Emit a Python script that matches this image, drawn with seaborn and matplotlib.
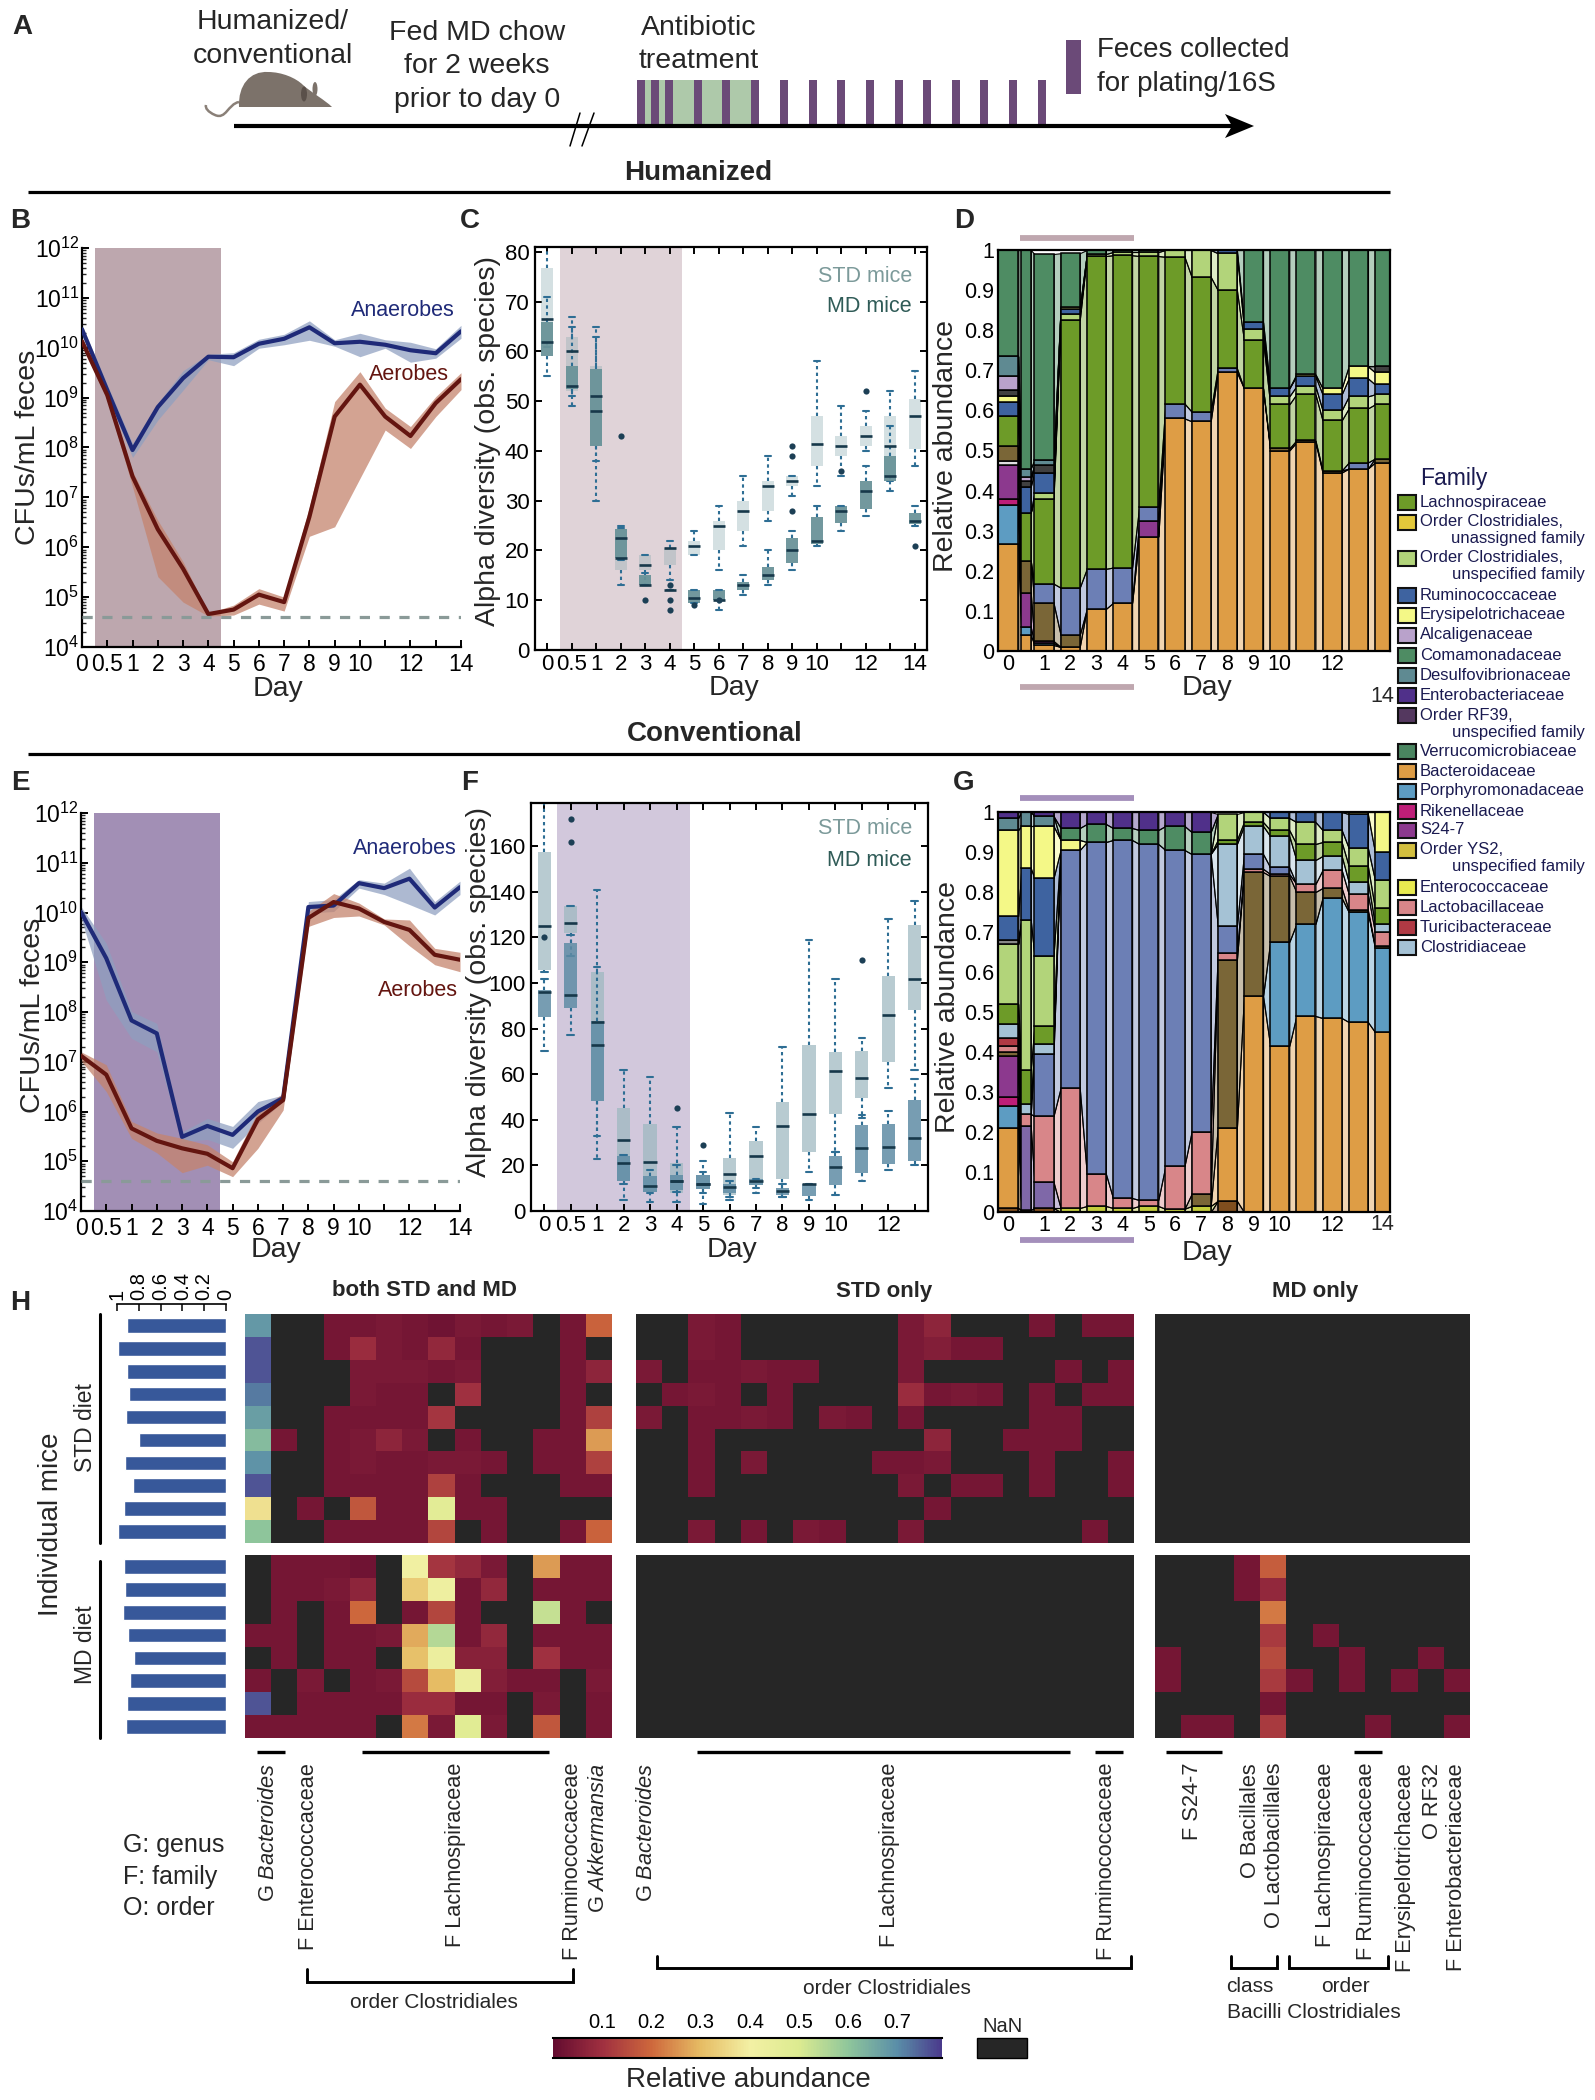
import numpy as np
import matplotlib
matplotlib.use("Agg")
import matplotlib.pyplot as plt
from matplotlib.colors import LinearSegmentedColormap, Normalize
from matplotlib.cm import ScalarMappable
from matplotlib.patches import Rectangle, PathPatch, Ellipse, Polygon
from matplotlib.path import Path
from matplotlib.ticker import LogLocator, NullFormatter
import seaborn as sns

sns.set_theme(style="white")
plt.rcParams['font.family'] = ['Liberation Sans', 'DejaVu Sans']
plt.rcParams['mathtext.fontset'] = 'custom'
plt.rcParams['mathtext.rm'] = 'Liberation Sans'
plt.rcParams['mathtext.it'] = 'Liberation Sans:italic'

W, H = 1595, 2100
n = np.nan

# ---------- data: CFU panels (log10 CFU/mL) ----------
cfu_ticks = ['0', '0.5', '1', '2', '3', '4', '5', '6', '7', '8', '9', '10', '', '12', '', '14']
b_ana = [10.37, 9.15, 7.95, 8.81, 9.39, 9.82, 9.81, 10.08, 10.18, 10.41, 10.09, 10.12, 10.06, 9.95, 9.89, 10.33]
b_ana_hi = [10.46, 9.26, 8.08, 8.89, 9.54, 9.87, 9.90, 10.17, 10.27, 10.54, 10.16, 10.29, 10.16, 10.11, 9.98, 10.45]
b_ana_lo = [10.29, 9.05, 7.80, 8.55, 9.15, 9.76, 9.64, 9.99, 10.06, 10.15, 10.03, 9.82, 9.99, 9.71, 9.79, 10.19]
b_aer = [10.13, 9.05, 7.42, 6.36, 5.57, 4.66, 4.75, 5.05, 4.90, 6.61, 8.62, 9.26, 8.62, 8.23, 8.89, 9.37]
b_aer_hi = [10.19, 9.12, 7.52, 6.54, 5.71, 4.68, 4.84, 5.17, 5.00, 6.81, 8.92, 9.52, 8.79, 8.42, 9.02, 9.50]
b_aer_lo = [10.06, 8.95, 7.21, 5.41, 4.90, 4.62, 4.64, 4.86, 4.72, 6.22, 6.41, 7.38, 8.35, 7.98, 8.62, 9.16]
e_ana = [10.01, 9.08, 7.83, 7.57, 5.49, 5.71, 5.53, 6.00, 6.27, 10.11, 10.14, 10.59, 10.49, 10.68, 10.10, 10.51]
e_ana_hi = [10.12, 9.38, 8.01, 7.77, 5.59, 5.86, 5.70, 6.20, 6.33, 10.22, 10.26, 10.66, 10.59, 10.89, 10.22, 10.63]
e_ana_lo = [9.89, 8.24, 7.47, 7.20, 5.39, 5.44, 5.26, 5.76, 6.20, 9.99, 10.02, 10.49, 10.36, 10.16, 9.95, 10.36]
e_aer = [7.12, 6.74, 5.66, 5.41, 5.26, 5.15, 4.86, 5.84, 6.23, 9.89, 10.21, 10.08, 9.81, 9.65, 9.15, 9.05]
e_aer_hi = [7.20, 6.94, 5.80, 5.57, 5.46, 5.33, 4.99, 6.00, 6.37, 10.02, 10.38, 10.19, 9.87, 9.85, 9.28, 9.20]
e_aer_lo = [7.02, 6.40, 5.46, 5.17, 4.77, 4.92, 4.69, 5.26, 6.03, 9.72, 9.90, 9.93, 9.75, 9.33, 8.95, 8.81]
detection_limit = 4.6

# ---------- data: alpha diversity boxes (low whisker, q1, median, q3, high whisker) ----------
c_std = [[61, 62, 66.5, 76.7, 81], [51, 52, 60, 63, 67], [38, 41, 51, 57, 65], [13, 16, 22.5, 24.4, 25],
         [13, 16, 17, 19, 19], [14, 17, 20.5, 20.5, 22], [19, 19, 21, 22, 24], [16, 20, 25, 26, 29],
         [21, 24, 28, 30, 35], [26, 28, 33, 34, 39], [31, 33, 34, 35, 35], [33, 37, 41.5, 47, 58],
         [35, 39, 41, 43, 49], [40, 41, 43, 45, 48], [34, 35, 41, 47, 52], [37, 40.5, 47, 50.5, 56]]
c_md = [[55, 59, 62, 66, 71], [49, 52.5, 53, 57, 65], [30, 41, 48, 56.5, 63], [18, 18.4, 18.5, 24.4, 24.5],
        [13, 13, 13, 15, 15.5], [12, 12, 12, 12, 12], [9.5, 9.5, 10.5, 12, 12], [8, 10, 10, 12, 12],
        [11, 12, 13, 13.7, 15], [13, 14, 15, 16.7, 20], [16, 17.5, 20, 22.5, 24], [21, 21.3, 22, 26.7, 29],
        [24, 25.5, 28, 29, 29], [27, 28.3, 32, 34, 37], [32, 34, 35, 39, 45], [25, 25.3, 26, 27.5, 29]]
c_flier_x = [3, 4, 5, 5, 5, 6, 7, 10, 10, 10, 12, 13, 15]
c_flier_y = [43, 10, 13, 10, 8, 9, 10, 41, 39, 28, 36, 52, 21]
f_std = [[105, 105.7, 125, 157.6, 179], [112, 122, 126.5, 134, 134], [33, 48.4, 83, 105, 141], [5, 13, 31, 45, 62],
         [4, 8.5, 21.5, 38, 59], [4, 8, 13, 21, 37], [3, 9.5, 12, 16, 22], [5, 7, 16.4, 23.4, 43],
         [8, 11.4, 24, 30.7, 37], [6, 14, 37.4, 47.7, 72], [17, 26, 42.5, 72.8, 119], [26, 42.5, 61.4, 69.7, 102],
         [41, 49.4, 58.5, 70, 76], [54, 65.5, 86, 103, 128], [62, 88, 102, 125.4, 136]]
f_md = [[70, 85, 96, 97, 102], [77, 89, 94.6, 117.7, 121], [23, 48.4, 73, 83.5, 107], [12, 13, 21, 24, 24.5],
        [8, 8.5, 11, 15.5, 18], [8.5, 9, 13, 16, 20], [8, 9.5, 12, 16, 17], [6, 8, 10.4, 12, 13],
        [10, 11.4, 13, 14, 14], [6, 7, 8.8, 10, 12], [5, 6.7, 12, 12, 12], [7, 11.4, 19.4, 24, 26],
        [13, 16.5, 27.5, 37.7, 42], [18, 20.5, 28, 38, 44], [20, 22, 32, 48.7, 58]]
f_flier_x = [0, 1, 1, 5, 6, 12]
f_flier_y = [120, 172, 162, 45, 29, 110]
box_ticks_c = ['0', '0.5', '1', '2', '3', '4', '5', '6', '7', '8', '9', '10', '', '12', '', '14']
box_ticks_f = ['0', '0.5', '1', '2', '3', '4', '5', '6', '7', '8', '9', '10', '', '12', '']

# ---------- data: stacked relative abundance, panel D (one value per sampling day) ----------
d_bacteroidaceae = [.268, .04, .015, .01, .105, .12, .285, .58, .573, .695, .655, .50, .52, .445, .455, .47]
d_porphyromonad = [.097, .02, .005, 0, 0, 0, 0, 0, 0, 0, 0, 0, 0, 0, 0, 0]
d_rikenellaceae = [.015, 0, 0, 0, 0, 0, 0, 0, 0, 0, 0, 0, 0, 0, 0, 0]
d_s24_7 = [.085, .085, .005, 0, 0, 0, .04, 0, 0, 0, 0, 0, 0, 0, 0, 0]
d_pale = [.01, 0, 0, 0, 0, 0, 0, 0, 0, 0, 0, 0, 0, 0, 0, 0]
d_brown = [.035, .08, .095, .03, 0, 0, 0, 0, 0, 0, 0, .005, .005, .005, 0, .01]
d_periwinkle = [0, 0, .048, .118, .10, .088, .035, .037, .024, .01, 0, 0, 0, 0, .015, 0]
d_lachno = [.075, .12, .212, .667, .78, .779, .625, .366, .336, .195, .12, .11, .115, .125, .135, .135]
d_clost_unspec = [0, 0, .015, .015, .005, .008, .01, .017, .067, .092, .028, .02, .02, .025, .03, .025]
d_rumino = [.035, .065, .05, .012, 0, 0, 0, 0, 0, .008, .017, .02, .025, .04, .045, .025]
d_erysipelo = [.015, 0, 0, .005, 0, 0, 0, 0, 0, 0, 0, 0, .005, .015, .03, .03]
d_gray = [.015, .015, .02, 0, 0, 0, 0, 0, 0, 0, 0, 0, 0, 0, 0, .015]
d_alcaligen = [.035, .01, 0, 0, 0, 0, 0, 0, 0, 0, 0, 0, 0, 0, 0, 0]
d_desulfo = [.05, .02, .012, 0, 0, 0, 0, 0, 0, 0, 0, 0, 0, 0, 0, 0]
d_comamonad = [.265, .545, .513, .135, .01, .005, .005, 0, 0, 0, .18, .345, .31, .345, .29, .29]

# ---------- data: stacked relative abundance, panel G ----------
g_darkbrown = [.01, .005, .01, 0, 0, 0, 0, 0, 0, .028, 0, 0, 0, 0, 0, 0]
g_enterococc = [0, 0, 0, .01, .015, .01, .015, .008, .015, 0, 0, 0, 0, 0, 0, 0]
g_bacteroidaceae = [.20, 0, 0, 0, 0, 0, 0, 0, 0, .182, .54, .415, .49, .485, .475, .45]
g_porphyromonad = [.055, 0, 0, 0, 0, 0, 0, 0, 0, 0, 0, .26, .23, .30, .275, .21]
g_rikenellaceae = [.023, 0, 0, 0, 0, 0, 0, 0, 0, 0, 0, 0, 0, 0, 0, 0]
g_s24_7 = [.102, 0, 0, 0, 0, 0, 0, 0, 0, 0, 0, 0, 0, 0, 0, 0]
g_violet = [0, .21, .065, 0, 0, 0, 0, 0, 0, 0, 0, 0, 0, 0, 0, 0]
g_brown = [.01, 0, 0, 0, 0, 0, 0, 0, .03, .42, .31, .165, .08, .025, .005, .005]
g_lactobac = [.015, .03, .165, .30, .08, .025, .015, .107, .155, .018, .008, .005, .02, .045, .04, .035]
g_turicibac = [.02, 0, 0, 0, 0, 0, 0, 0, 0, 0, 0, 0, 0, 0, 0, 0]
g_periwinkle = [0, 0, .155, .595, .83, .895, .89, .79, .695, .067, .037, .017, 0, 0, 0, 0]
g_clostridiac = [.035, .025, .025, 0, 0, 0, 0, 0, 0, .205, .07, .078, .06, .035, .03, .02]
g_lachno = [.05, .085, .045, 0, 0, 0, 0, 0, 0, .01, .01, .015, .04, .035, .04, .04]
g_clost_unspec = [.15, .375, .175, 0, 0, 0, 0, 0, 0, .065, .025, .03, .055, .03, .045, .07]
g_gray = [.01, 0, 0, 0, 0, 0, 0, 0, 0, 0, 0, 0, 0, 0, 0, 0]
g_rumino = [.06, .13, .195, 0, 0, 0, 0, 0, 0, 0, 0, .015, .025, .045, .085, .07]
g_erysipelo = [.215, .105, .13, .025, 0, 0, 0, 0, 0, 0, 0, 0, 0, 0, .005, .10]
g_desulfo = [.03, .035, .025, 0, 0, 0, 0, 0, 0, 0, 0, 0, 0, 0, 0, 0]
g_comamonad = [0, 0, 0, .03, .045, .03, .035, .06, .055, 0, 0, 0, 0, 0, 0, 0]
g_enterobac = [.015, 0, .01, .04, .03, .04, .045, .035, .05, 0, 0, 0, 0, 0, 0, 0]

stack_days = ['0', '', '1', '2', '3', '4', '5', '6', '7', '8', '9', '10', '', '12', '', '']

family_names = ['Lachnospiraceae', 'Order Clostridiales,\nunassigned family', 'Order Clostridiales,\nunspecified family',
                'Ruminococcaceae', 'Erysipelotrichaceae', 'Alcaligenaceae', 'Comamonadaceae', 'Desulfovibrionaceae',
                'Enterobacteriaceae', 'Order RF39,\nunspecified family', 'Verrucomicrobiaceae', 'Bacteroidaceae',
                'Porphyromonadaceae', 'Rikenellaceae', 'S24-7', 'Order YS2,\nunspecified family', 'Enterococcaceae',
                'Lactobacillaceae', 'Turicibacteraceae', 'Clostridiaceae']
family_colors = ['#6D9B28', '#E3C93B', '#B2D47A', '#3E63A0', '#F4F887', '#B9A2CB', '#4E8C63', '#5F8A92', '#50308A',
                 '#54385F', '#4A8560', '#DE9D45', '#5D9CC2', '#BE1E78', '#8C398E', '#D3BF3F', '#E8EA50', '#D88689',
                 '#B03A44', '#A5C2D5']
FC = dict(zip(family_names, family_colors))

# ---------- data: heatmaps ----------
both_std = [[.68, n, n, .03, .03, .04, .03, .02, .04, .03, .04, n, .03, .19],
            [.76, n, n, .03, .09, .04, .03, .08, .03, n, n, n, .03, n],
            [.76, n, n, n, .04, .04, .04, .03, .04, n, n, n, .03, .07],
            [.72, n, n, n, .04, .03, .03, n, .10, n, n, n, .03, n],
            [.67, n, n, .03, .03, .03, .03, .11, n, n, n, n, .03, .13],
            [.62, .03, n, .03, .04, .07, .04, n, .03, n, n, .03, .03, .26],
            [.69, n, n, .03, .04, .03, .03, .04, .04, .03, n, .03, .03, .13],
            [.76, n, n, .03, .03, .03, .03, .13, .03, n, n, n, .03, .03],
            [.37, n, .03, n, .17, .03, .03, .47, .03, .03, n, n, n, n],
            [.60, n, n, .03, .03, .03, .03, .14, n, .03, n, n, .03, .19]]
both_md = [[n, .03, .03, .03, .02, n, .41, .11, .08, .04, n, .26, .03, .03],
           [n, .03, .03, .04, .07, n, .33, .42, .03, .08, n, .03, .03, .03],
           [n, .03, n, .03, .20, n, .03, .14, .03, n, n, .53, .03, n],
           [.03, .03, n, .03, .03, .04, .28, .55, .03, .08, n, .03, .03, .03],
           [n, .03, n, .03, .03, n, .31, .43, .06, .06, n, .10, .03, .03],
           [.03, n, .04, n, .03, .04, .15, .30, .43, .05, .03, .03, n, .04],
           [.76, n, .03, .03, .03, .03, .09, .09, .03, .03, n, .04, n, .03],
           [.03, .03, .03, .03, .03, n, .22, .04, .48, .04, n, .17, n, .03]]
a = .03
b = .04
std_only = [[n, n, b, a, n, n, n, n, n, n, b, .07, n, n, n, a, n, a, a],
            [n, n, b, a, n, n, n, n, n, n, b, .05, a, a, n, n, n, n, n],
            [b, n, a, a, b, a, a, n, n, n, b, n, n, n, n, n, a, n, a],
            [n, a, b, a, n, a, n, n, n, n, .09, a, b, a, n, a, n, a, a],
            [b, n, a, a, b, a, n, b, a, n, a, n, n, n, n, a, a, n, n],
            [n, n, a, n, n, n, n, n, n, n, n, .07, n, n, a, a, a, n, n],
            [n, n, a, n, b, n, n, n, n, a, a, b, n, n, n, a, n, n, a],
            [n, n, a, n, n, n, n, n, n, n, b, n, a, a, n, a, n, n, a],
            [n, n, n, n, n, n, n, n, n, n, n, a, n, n, n, n, n, n, n],
            [n, n, b, n, a, n, b, a, n, n, b, n, n, n, n, n, n, a, n]]
md_only = [[n, n, n, a, .18, n, n, n, n, n, n, n],
           [n, n, n, a, .08, n, n, n, n, n, n, n],
           [n, n, n, n, .22, n, n, n, n, n, n, n],
           [n, n, n, n, .12, n, a, n, n, n, n, n],
           [a, n, n, n, .15, n, n, a, n, n, a, n],
           [a, n, n, n, .12, a, n, a, n, a, n, a],
           [n, n, n, n, .03, n, n, n, n, n, n, n],
           [n, a, a, n, .12, n, n, n, a, n, n, a]]
no_std_cols = 19
no_md_cols = 12
std_totals = [.905, .993, .911, .889, .915, .80, .931, .856, .938, .99]
md_totals = [.934, .925, .941, .898, .843, .885, .905, .915]
total_ticks = [1, .8, .6, .4, .2, 0]
total_labels = ['1', '0.8', '0.6', '0.4', '0.2', '0']
abund_ticks = [.1, .2, .3, .4, .5, .6, .7]

cmap = LinearSegmentedColormap.from_list('abund', [
    (0, '#640C30'), (.1 / .79, '#A03040'), (.2 / .79, '#CE683C'), (.3 / .79, '#E6BC64'), (.4 / .79, '#F3F0A4'),
    (.5 / .79, '#DCEB90'), (.6 / .79, '#8FC69B'), (.7 / .79, '#5A8EA8'), (1, '#4A3A8C')])

# ---------- figure helpers ----------
fig = plt.figure(figsize=(W / 100, H / 100), dpi=100, facecolor='white')


def px_axes(l, t, r, b):
    return fig.add_axes([l / W, 1 - b / H, (r - l) / W, (b - t) / H])


def set_labels(ax, rect, xlab, xp, yp, ylab, xq, yq, fs=20.5):
    l, t, r, bt = rect
    ax.set_xlabel(xlab, fontsize=fs, va='center')
    ax.xaxis.set_label_coords((xp - l) / (r - l), (bt - yp - 3) / (bt - t))
    ax.set_ylabel(ylab, fontsize=fs, va='center')
    ax.yaxis.set_label_coords((xq - l) / (r - l), (bt - yq) / (bt - t))


def cfu_panel(rect, ana, ana_hi, ana_lo, aer, aer_hi, aer_lo, shade, xlab, ylab):
    ax = px_axes(*rect)
    ax.set_yscale('log')
    xs = np.arange(16)
    ax.axvspan(0.5, 5.49, color=shade, lw=0, zorder=0)
    ax.fill_between(xs, 10.0 ** np.array(ana_lo), 10.0 ** np.array(ana_hi), color='#8E9FC0', alpha=.72, lw=0, zorder=1)
    sns.lineplot(x=xs, y=10.0 ** np.array(ana), color='#1F2A78', lw=3, ax=ax, errorbar=None, zorder=3)
    ax.fill_between(xs, 10.0 ** np.array(aer_lo), 10.0 ** np.array(aer_hi), color='#C5846E', alpha=.75, lw=0, zorder=2)
    sns.lineplot(x=xs, y=10.0 ** np.array(aer), color='#641510', lw=3, ax=ax, errorbar=None, zorder=4)
    ax.axhline(10 ** detection_limit, color='#8A9A98', lw=2.3, dashes=(3.2, 3.0), zorder=5)
    ax.set_xlim(0, 15)
    ax.set_ylim(1e4, 1e12)
    ax.set_xticks(xs)
    ax.set_xticklabels(cfu_ticks, fontsize=16.5)
    ax.set_yticks([10.0 ** k for k in range(4, 13)])
    ax.set_yticklabels(['$\\mathregular{10^{%d}}$' % k for k in range(4, 13)], fontsize=16.5)
    ax.yaxis.set_minor_locator(LogLocator(base=10, subs=np.arange(2, 10), numticks=100))
    ax.yaxis.set_minor_formatter(NullFormatter())
    ax.tick_params(axis='both', which='major', direction='in', length=5, width=1.4, left=True, bottom=True, pad=4, colors='black')
    ax.tick_params(axis='y', which='minor', direction='in', length=3, width=1, left=True)
    ax.tick_params(axis='y', which='major', pad=2)
    for s in ['top', 'right']:
        ax.spines[s].set_visible(False)
    for s in ['left', 'bottom']:
        ax.spines[s].set_linewidth(1.6)
        ax.spines[s].set_color('black')
    set_labels(ax, rect, 'Day', xlab[0], xlab[1], 'CFUs/mL feces', ylab[0], ylab[1])
    ax.set_facecolor('none')
    return ax


def boxes(ax, rows, color, alpha):
    xs, ys = [], []
    for pos, stats in enumerate(rows):
        xs += [pos] * len(stats)
        ys += list(stats)
    sns.boxplot(x=xs, y=ys, native_scale=True, whis=(0, 100), showfliers=False, width=.5, color=color, saturation=1,
                ax=ax, boxprops=dict(alpha=alpha, linewidth=0),
                medianprops=dict(color='#17384A', linewidth=1.9),
                whiskerprops=dict(color='#2E6E94', linewidth=1.5, linestyle=(0, (1.6, 1.6))),
                capprops=dict(color='#2E6E94', linewidth=1.5), zorder=2)


def box_panel(rect, std, md, fx, fy, ticks, ymax, yticks, shade, std_col, std_a, md_col, md_a, xlab, ylab):
    ax = px_axes(*rect)
    ax.axvspan(0.5, 5.49, color=shade, lw=0, zorder=0)
    boxes(ax, std, std_col, std_a)
    boxes(ax, md, md_col, md_a)
    sns.scatterplot(x=fx, y=fy, color='#1C3F55', s=20, linewidth=0, ax=ax, zorder=4, legend=False)
    ax.set_xlim(-.5, len(std) - .5)
    ax.set_ylim(0, ymax)
    ax.set_xticks(np.arange(len(std)))
    ax.set_xticklabels(ticks, fontsize=16)
    ax.set_yticks(yticks)
    ax.set_yticklabels([str(v) for v in yticks], fontsize=16)
    ax.tick_params(axis='both', direction='in', length=5, width=1.4, left=True, right=True, top=True, bottom=True, pad=4, colors='black')
    ax.tick_params(axis='x', pad=3)
    for s in ax.spines.values():
        s.set_linewidth(1.6)
        s.set_color('black')
    set_labels(ax, rect, 'Day', xlab[0], xlab[1], 'Alpha diversity (obs. species)', ylab[0], ylab[1])
    return ax


stack_pos = np.array([0, .675] + [1.36 + k for k in range(14)])
stack_wid = np.array([.76, .36] + [.73] * 14)


def stack_panel(rect, layers, xlab, ylab):
    ax = px_axes(*rect)
    bottom = np.zeros(16)
    for vals, col in layers:
        vals = np.array(vals, float)
        top = bottom + vals
        for i in range(15):
            if vals[i] > 0 or vals[i + 1] > 0:
                xx = [stack_pos[i] + stack_wid[i] / 2, stack_pos[i + 1] - stack_wid[i + 1] / 2]
                ax.fill_between(xx, bottom[i:i + 2], top[i:i + 2], facecolor=matplotlib.colors.to_rgba(col, .42),
                                edgecolor='black', linewidth=.8, zorder=1)
        keep = vals > 0
        ax.bar(stack_pos[keep], vals[keep], width=stack_wid[keep], bottom=bottom[keep], color=col,
               edgecolor='black', linewidth=1.1, zorder=2)
        bottom = top
    ax.set_xlim(-.395, 14.57)
    ax.set_ylim(0, 1)
    ax.set_xticks(stack_pos)
    ax.set_xticklabels(stack_days, fontsize=15.5)
    ax.set_yticks(np.arange(0, 1.01, .1))
    ax.set_yticklabels(['0', '0.1', '0.2', '0.3', '0.4', '0.5', '0.6', '0.7', '0.8', '0.9', '1'], fontsize=15.5)
    ax.tick_params(axis='both', length=0, colors='black')
    ax.tick_params(axis='x', pad=2)
    ax.tick_params(axis='y', pad=3)
    for s in ax.spines.values():
        s.set_linewidth(1.6)
        s.set_color('black')
    set_labels(ax, rect, 'Day', xlab[0], xlab[1], 'Relative abundance', ylab[0], ylab[1])
    return ax


PERI, BROWN, GRAY = '#6C7FB5', '#7A6637', '#404040'

# ---------- panels ----------
cfu_panel((82, 248, 461, 647), b_ana, b_ana_hi, b_ana_lo, b_aer, b_aer_hi, b_aer_lo, '#BDA7AE', (278, 686), (28, 447))
cfu_panel((81, 813, 460, 1211), e_ana, e_ana_hi, e_ana_lo, e_aer, e_aer_hi, e_aer_lo, '#A28FB5', (276, 1247), (33, 1015))
box_panel((535, 247, 927, 650), c_std, c_md, c_flier_x, c_flier_y, box_ticks_c, 81, list(range(0, 81, 10)),
          '#E0D3D8', '#8FAEB3', .38, '#6A9399', .95, (734, 685), (488, 441))
box_panel((531, 803, 928, 1211), f_std, f_md, f_flier_x, f_flier_y, box_ticks_f, 179, list(range(0, 161, 20)),
          '#D2C8DC', '#9DB8C0', .72, '#5F8CA5', .85, (732, 1247), (479, 992))

stack_panel((998, 250, 1390, 651), [
    (d_bacteroidaceae, FC['Bacteroidaceae']), (d_porphyromonad, FC['Porphyromonadaceae']),
    (d_rikenellaceae, FC['Rikenellaceae']), (d_s24_7, FC['S24-7']), (d_pale, '#E0E0E0'), (d_brown, BROWN),
    (d_periwinkle, PERI), (d_lachno, FC['Lachnospiraceae']),
    (d_clost_unspec, FC['Order Clostridiales,\nunspecified family']), (d_rumino, FC['Ruminococcaceae']),
    (d_erysipelo, FC['Erysipelotrichaceae']), (d_gray, GRAY), (d_alcaligen, FC['Alcaligenaceae']),
    (d_desulfo, FC['Desulfovibrionaceae']), (d_comamonad, FC['Comamonadaceae'])], (1207, 685), (946, 446))

stack_panel((998, 812, 1390, 1212), [
    (g_darkbrown, '#7F4E1E'), (g_enterococc, '#C4CE3C'), (g_bacteroidaceae, FC['Bacteroidaceae']),
    (g_porphyromonad, FC['Porphyromonadaceae']), (g_rikenellaceae, FC['Rikenellaceae']), (g_s24_7, FC['S24-7']),
    (g_violet, '#7F68A8'), (g_brown, BROWN), (g_lactobac, FC['Lactobacillaceae']),
    (g_turicibac, FC['Turicibacteraceae']), (g_periwinkle, PERI), (g_clostridiac, FC['Clostridiaceae']),
    (g_lachno, FC['Lachnospiraceae']), (g_clost_unspec, FC['Order Clostridiales,\nunspecified family']),
    (g_gray, '#888888'), (g_rumino, FC['Ruminococcaceae']), (g_erysipelo, FC['Erysipelotrichaceae']),
    (g_desulfo, FC['Desulfovibrionaceae']), (g_comamonad, FC['Comamonadaceae']), (g_enterobac, FC['Enterobacteriaceae'])],
    (1207, 1250), (948, 1007))


def hm(rect, data):
    ax = px_axes(*rect)
    sns.heatmap(np.array(data, float), ax=ax, cmap=cmap, vmin=0, vmax=.79, cbar=False, xticklabels=False, yticklabels=False)
    ax.set_facecolor('#262626')
    return ax


hm((245, 1314, 612, 1543), both_std)
hm((245, 1555, 612, 1738), both_md)
hm((636, 1314, 1134, 1543), std_only)
hm((636, 1555, 1134, 1738), np.full((len(md_totals), no_std_cols), np.nan))
hm((1155, 1314, 1470, 1543), np.full((len(std_totals), no_md_cols), np.nan))
hm((1155, 1555, 1470, 1738), md_only)

for rect, totals, top_axis in [((117, 1314, 226, 1543), std_totals, True), ((117, 1555, 226, 1738), md_totals, False)]:
    ax = px_axes(*rect)
    sns.barplot(x=totals, y=list(range(len(totals))), orient='h', color='#37589A', saturation=1, width=.64, ax=ax, errorbar=None)
    ax.set_xlim(1, 0)
    ax.set_xlabel('')
    ax.set_ylabel('')
    ax.set_yticks([])
    for s in ax.spines.values():
        s.set_visible(False)
    if top_axis:
        ax.spines['top'].set_visible(True)
        ax.spines['top'].set_position(('outward', 7))
        ax.spines['top'].set_color('black')
        ax.spines['top'].set_linewidth(1.2)
        ax.xaxis.tick_top()
        ax.set_xticks(total_ticks)
        ax.set_xticklabels(total_labels, rotation=90, fontsize=14.5)
        ax.tick_params(axis='x', direction='in', length=5, width=1.1, top=True, pad=3, colors='black')
    else:
        ax.set_xticks([])

cax = px_axes(553, 2038, 942, 2058)
cb = fig.colorbar(ScalarMappable(Normalize(0, .79), cmap), cax=cax, orientation='horizontal')
cb.set_ticks(abund_ticks)
cb.set_ticklabels(['0.1', '0.2', '0.3', '0.4', '0.5', '0.6', '0.7'], fontsize=14.5)
cax.xaxis.set_ticks_position('top')
cax.tick_params(axis='x', direction='in', length=4, width=1, top=True, bottom=False, pad=4, colors='black')
cb.outline.set_visible(False)
for s in ['top', 'bottom']:
    cax.spines[s].set_visible(True)
    cax.spines[s].set_color('black')
    cax.spines[s].set_linewidth(1.5)

# ---------- annotation layer in figure pixels ----------
ov = fig.add_axes([0, 0, 1, 1], zorder=20)
ov.set_xlim(0, W)
ov.set_ylim(H, 0)
ov.axis('off')


def T(x, y, s, fs=15, ha='center', va='center', **kw):
    ov.text(x, y, s, fontsize=fs, ha=ha, va=va, **kw)


def HL(x0, x1, y, lw=2.2, color='black'):
    ov.plot([x0, x1], [y, y], color=color, lw=lw, solid_capstyle='butt')


# panel letters
for (x, y, s) in [(22, 27, 'A'), (20, 221, 'B'), (470, 221, 'C'), (964, 221, 'D'), (20, 783, 'E'), (470, 783, 'F'),
                  (964, 783, 'G'), (20, 1303, 'H')]:
    T(x, y, s, fs=20, fontweight='bold')

# panel A schematic
for x, y, s in [(273, 22, 'Humanized/'), (273, 56, 'conventional'), (477, 33, 'Fed MD chow'), (477, 66, 'for 2 weeks'),
                (477, 100, 'prior to day 0'), (699, 28, 'Antibiotic'), (699, 61, 'treatment')]:
    T(x, y, s, fs=20.5)
T(1097, 50, 'Feces collected', fs=20, ha='left')
T(1097, 84, 'for plating/16S', fs=20, ha='left')
ov.add_patch(Rectangle((637, 80), 122, 45, color='#AEC9AA', lw=0))
sample_left = [637, 651, 665, 694, 722, 751, 780, 809, 837, 866, 895, 923, 952, 980, 1009, 1038]
for x in sample_left:
    ov.add_patch(Rectangle((x, 80), 8, 45, color='#6B4A78', lw=0))
ov.add_patch(Rectangle((1066, 40), 15, 54, color='#6B4A78', lw=0))
HL(234, 1232, 126, lw=3)
ov.add_patch(Polygon([(1225, 114), (1254, 126), (1225, 138), (1232, 126)], closed=True, facecolor='black', edgecolor='none'))
ov.plot([570, 580], [146, 113], color='black', lw=1.1)
ov.plot([582, 594], [146, 113], color='black', lw=1.1)
body = Path([(239, 107), (238, 85), (250, 71), (268, 72), (282, 72), (296, 78), (303, 85), (312, 93), (325, 100), (332, 107), (239, 107)],
            [Path.MOVETO, Path.CURVE4, Path.CURVE4, Path.CURVE4, Path.CURVE4, Path.CURVE4, Path.CURVE4, Path.CURVE4, Path.CURVE4, Path.CURVE4, Path.CLOSEPOLY])
ov.add_patch(PathPatch(body, facecolor='#7C726A', edgecolor='none'))
tail = Path([(239, 102), (228, 104), (226, 120), (215, 115), (208, 112), (205, 108), (206, 105)],
            [Path.MOVETO, Path.CURVE4, Path.CURVE4, Path.CURVE4, Path.CURVE4, Path.CURVE4, Path.CURVE4])
ov.add_patch(PathPatch(tail, facecolor='none', edgecolor='#8A8078', lw=1.8))
ov.add_patch(Ellipse((315, 89), 5, 14, color='#7C726A', lw=0))
ov.add_patch(Ellipse((304, 94), 6, 15, color='#5A504A', lw=0))

# section headers
T(698, 173, 'Humanized', fs=20, fontweight='bold')
T(715, 734, 'Conventional', fs=20, fontweight='bold')
HL(28, 1390, 192, lw=2.3)
HL(28, 1390, 754, lw=2.3)

# CFU and box annotations
T(403, 310, 'Anaerobes', fs=15.5, color='#1F2A78')
T(409, 375, 'Aerobes', fs=15.5, color='#641510')
T(405, 848, 'Anaerobes', fs=15.5, color='#1F2A78')
T(418, 990, 'Aerobes', fs=15.5, color='#641510')
T(912, 276, 'STD mice', fs=15.5, ha='right', color='#7C9A9A')
T(912, 307, 'MD mice', fs=15.5, ha='right', color='#2F5B57')
T(912, 828, 'STD mice', fs=15.5, ha='right', color='#7C9A9A')
T(912, 860, 'MD mice', fs=15.5, ha='right', color='#2F5B57')

# treatment bars and displaced tick labels
HL(1020, 1134, 238, lw=4.2, color='#BFA7AF')
HL(1020, 1134, 687, lw=4.2, color='#BFA7AF')
HL(1020, 1134, 798, lw=4.2, color='#A48FBB')
HL(1020, 1134, 1240, lw=4.2, color='#A48FBB')
T(1382, 697, '14', fs=15.5)
T(1382, 1225, '14', fs=15.5)

# family legend
T(1454, 478, 'Family', fs=16.5, color='#1A1A50', ha='center')
legend_y = [502, 522, 558, 595, 615, 635, 655, 675, 695, 715, 751, 771, 791, 811, 830, 850, 887, 907, 927, 947]
for name, col, y in zip(family_names, family_colors, legend_y):
    ov.add_patch(Rectangle((1398, y - 7.5), 18, 15, facecolor=col, edgecolor='#111111', lw=1.5))
    parts = name.split('\n')
    T(1420, y, parts[0], fs=12, ha='left', color='#1A1A50')
    if len(parts) > 1:
        T(1585, y + 17, parts[1], fs=12, ha='right', color='#1A1A50')

# heatmap side and top labels
T(424, 1291, 'both STD and MD', fs=16, fontweight='bold')
T(884, 1291, 'STD only', fs=16, fontweight='bold')
T(1315, 1291, 'MD only', fs=16, fontweight='bold')
ov.plot([100, 100], [1314, 1543], color='black', lw=2.2)
ov.plot([100, 100], [1561, 1738], color='black', lw=2.2)
T(86, 1428, 'STD diet', fs=16.5, rotation=90)
T(86, 1645, 'MD diet', fs=16.5, rotation=90)
T(51, 1524, 'Individual mice', fs=20, rotation=90)

for x0, x1 in [(257, 285), (362, 549), (697, 1070), (1095, 1123), (1166, 1222), (1354, 1382)]:
    HL(x0, x1, 1752, lw=2.4)

taxa_x = [268, 309, 455, 573, 599, 647, 889, 1107, 1193, 1251, 1274, 1325, 1366, 1405, 1432, 1457]
taxa_names = ['G $\\mathit{Bacteroides}$', 'F Enterococcaceae', 'F Lachnospiraceae', 'F Ruminococcaceae',
              'G $\\mathit{Akkermansia}$', 'G $\\mathit{Bacteroides}$', 'F Lachnospiraceae', 'F Ruminococcaceae',
              'F S24-7', 'O Bacillales', 'O Lactobacillales', 'F Lachnospiraceae', 'F Ruminococcaceae',
              'F Erysipelotrichaceae', 'O RF32', 'F Enterobacteriaceae']
for x, s in zip(taxa_x, taxa_names):
    T(x, 1763, s, fs=15.7, rotation=90, va='top')

for x0, x1, y0, y1 in [(307, 573, 1969, 1982), (657, 1131, 1956, 1968), (1231, 1277, 1956, 1968), (1289, 1388, 1956, 1968)]:
    ov.plot([x0, x0, x1, x1], [y0, y1, y1, y0], color='black', lw=2.1, solid_joinstyle='miter')
T(434, 2002, 'order Clostridiales', fs=15)
T(887, 1988, 'order Clostridiales', fs=15)
T(1250, 1987, 'class', fs=15)
T(1345, 1987, 'order', fs=15)
T(1314, 2013, 'Bacilli Clostridiales', fs=15)
T(123, 1845, 'G: genus', fs=18, ha='left')
T(123, 1877, 'F: family', fs=18, ha='left')
T(123, 1908, 'O: order', fs=18, ha='left')

ov.add_patch(Rectangle((977, 2038), 50, 20, facecolor='#262626', edgecolor='black', lw=1))
T(1003, 2027, 'NaN', fs=14.5)
T(748, 2080, 'Relative abundance', fs=20)

fig.savefig('out.png', dpi=100, facecolor='white')
